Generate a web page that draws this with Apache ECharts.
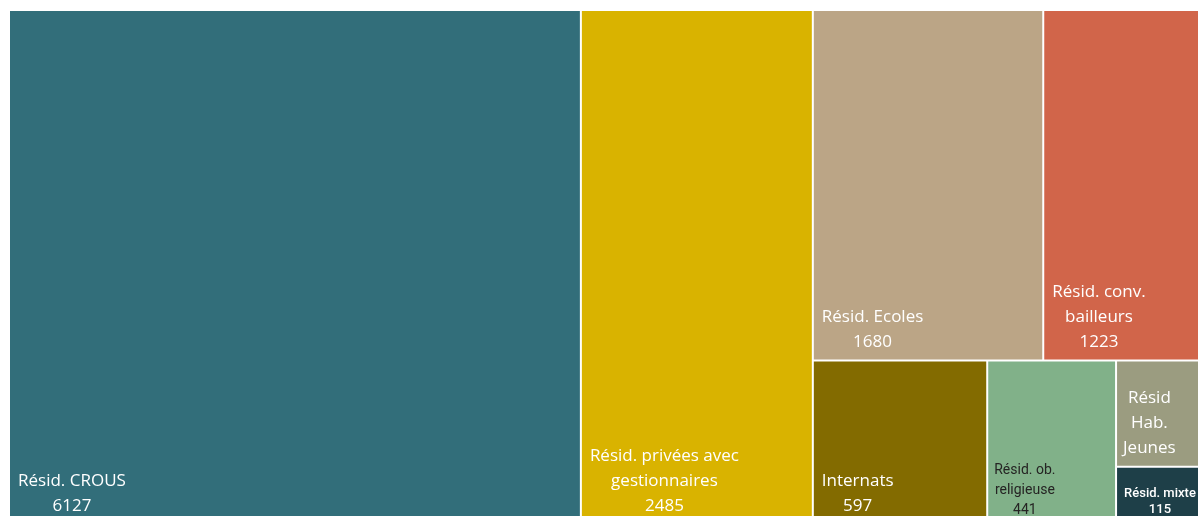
<!DOCTYPE html>
<html><head><meta charset="utf-8">
<script src="https://cdn.jsdelivr.net/npm/echarts@6/dist/echarts.min.js"></script>
<style>html,body{margin:0;padding:0;background:#fff;overflow:hidden}#c{width:1198px;height:516px;}</style>
</head><body><div id="c"></div>
<script>
// ---- data ----
const names = ['Résid. CROUS', 'Résid. privées avec gestionnaires', 'Résid. Ecoles', 'Résid. conv. bailleurs', 'Internats', 'Résid. ob. religieuse', 'Résid Hab. Jeunes', 'Résid. mixte'];
const values = [6127, 2485, 1680, 1223, 597, 441, 210, 115];
const labelLines = [['Résid. CROUS'], ['Résid. privées avec', 'gestionnaires'], ['Résid. Ecoles'], ['Résid. conv.', 'bailleurs'], ['Internats'], ['Résid. ob.', 'religieuse'], ['Résid', 'Hab.', 'Jeunes'], ['Résid. mixte']];
const showValue = [true, true, true, true, true, true, false, true];
const colors = ['#326E7A', '#D9B300', '#BBA586', '#D1654A', '#836B00', '#81B189', '#9B9C80', '#1E3F48'];

// ---- styles ----
const baseLabel = {fontFamily: 'Open Sans', fontSize: 17, lineHeight: 25, color: '#ffffff', fontWeight: 'normal', dx: 0, dy: 3};
const labelOverride = {
  5: {fontFamily: 'Roboto', fontSize: 14, lineHeight: 20, color: '#252423', dx: -2, dy: 4},
  6: {dx: -2},
  7: {fontFamily: 'Roboto', fontSize: 13, lineHeight: 16, fontWeight: 500, dx: -1, dy: 2}
};

const ctx = document.createElement('canvas').getContext('2d');
function leaf(i) {
  const s = Object.assign({}, baseLabel, labelOverride[i] || {});
  ctx.font = (s.fontWeight === 'normal' ? '' : s.fontWeight + ' ') + s.fontSize + 'px "' + s.fontFamily + '"';
  const lines = labelLines[i].slice();
  if (showValue[i]) lines.push(String(values[i]));
  let w = 0;
  lines.forEach(l => { w = Math.max(w, ctx.measureText(l).width); });
  return {
    name: names[i], value: values[i],
    itemStyle: {color: colors[i]},
    label: {
      formatter: lines.join('\n'), align: 'center', verticalAlign: 'bottom',
      offset: [w / 2 + s.dx, s.dy],
      fontFamily: s.fontFamily, fontSize: s.fontSize, lineHeight: s.lineHeight,
      color: s.color, fontWeight: s.fontWeight
    }
  };
}
function group(name, children) {
  return {name: name, children: children, label: {show: false}, itemStyle: {borderWidth: 0, gapWidth: 2, borderColor: '#fff'}};
}
const data = [
  leaf(0), leaf(1),
  group('R', [
    group('T', [leaf(2), leaf(3)]),
    group('B', [leaf(4), leaf(5), leaf(6), leaf(7)])
  ])
];

const chart = echarts.init(document.getElementById('c'), null, {renderer: 'canvas'});
chart.setOption({
  animation: false,
  series: [{
    type: 'treemap',
    left: 10, top: 11, width: 1200, height: 513,
    roam: false, nodeClick: false,
    breadcrumb: {show: false},
    sort: false, squareRatio: 1,
    itemStyle: {borderWidth: 0, gapWidth: 2, borderColor: '#fff'},
    upperLabel: {show: false},
    label: {show: true, position: 'insideBottomLeft', distance: 8, padding: 0},
    emphasis: {disabled: true},
    data: data
  }]
});
</script></body></html>
